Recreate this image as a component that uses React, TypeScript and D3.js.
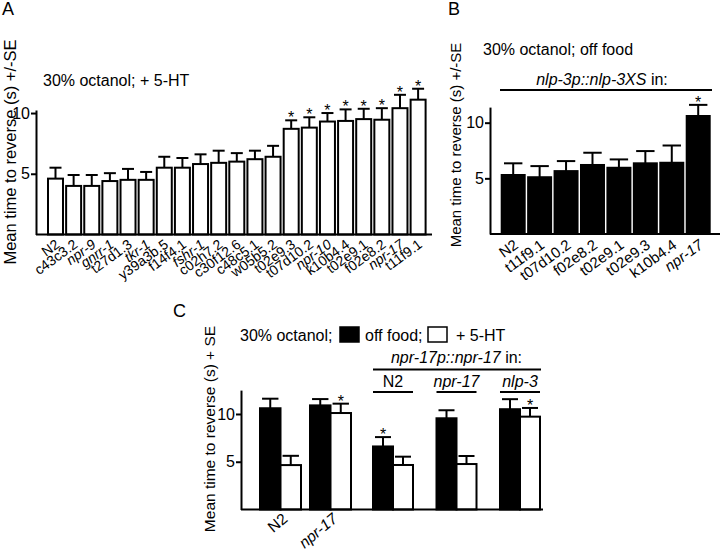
import React, {useRef, useEffect} from 'react';
import {scaleLinear, scaleBand, axisLeft, select} from 'd3';

const fontFamily = '"Liberation Sans", Arial, sans-serif';

// Panel A: 30% octanol; + 5-HT
const strainsA = ['N2','c43c3.2','npr-9','gnrr-1','t27d1.3','tkr-1','y39a3b.5','f14f4.1','fshr-1','c02h7.2','c30f12.6','c48c5.1','w05b5.2','t02e9.3','t07d10.2','npr-10','k10b4.4','t02e9.1','f02e8.2','npr-17','t11f9.1'];
const meanA = [4.6,4.0,4.0,4.4,4.5,4.5,5.5,5.5,5.8,5.9,6.0,6.2,6.4,8.7,8.8,9.3,9.35,9.5,9.45,10.4,11.1];
const seA = [0.9,0.9,0.9,0.65,0.9,0.65,0.9,0.8,0.8,1.0,0.7,0.7,0.9,0.7,0.85,0.7,0.95,0.85,0.95,1.1,0.9];
const sigA = [0,0,0,0,0,0,0,0,0,0,0,0,0,1,1,1,1,1,1,1,1];

// Panel B: 30% octanol; off food, nlp-3 overexpression
const strainsB = ['N2','t11f9.1','t07d10.2','f02e8.2','t02e9.1','t02e9.3','k10b4.4','npr-17'];
const meanB = [5.3,5.1,5.65,6.2,5.95,6.35,6.4,10.6];
const seB = [1.05,1.0,0.9,1.1,0.75,1.1,1.55,1.0];
const sigB = [0,0,0,0,0,0,0,1];

// Panel C: off food vs + 5-HT
const controlsC = ['N2','npr-17'];
const rescuesC = ['N2','npr-17','nlp-3'];
const conditionsC = ['off food','+ 5-HT'];
const offFoodC = [10.6,10.9,6.6,9.55,10.5];
const offFoodSeC = [1.0,0.66,0.98,0.84,1.05];
const htC = [4.65,10.1,4.66,4.76,9.72];
const htSeC = [0.97,0.98,0.87,0.84,0.91];
const sigOffFoodC = [0,0,1,0,0];
const sigHtC = [0,1,0,0,1];

const yTicks = [5,10];

const italic = (s: string) => /^[a-z]+-\d+$/.test(s);

const textStyle = {fontFamily, fill:'#000'};

function YAxis({scale, x}: any){
	const ref = useRef<SVGGElement>(null);
	useEffect(() => {
		const g = select(ref.current);
		g.call(axisLeft(scale).tickValues(yTicks).tickSize(5).tickSizeOuter(0).tickPadding(1) as any);
		g.select('.domain').attr('stroke','#000').attr('stroke-width',2);
		g.selectAll('.tick line').attr('stroke','#000').attr('stroke-width',2);
		g.selectAll('.tick text')
			.style('font-size','16px')
			.style('font-family',fontFamily)
			.attr('fill','#000');
	}, [scale]);
	return <g ref={ref} transform={`translate(${x},0)`} />;
}

function Bar({x, w, y, mean, se, fill, sig}: any){
	const top = y(mean);
	const err = y(mean + se);
	const cx = x + w/2;
	const cap = w*0.8;
	return (
		<g>
			<line x1={cx} x2={cx} y1={top} y2={err} stroke='#000' strokeWidth={2} />
			<line x1={cx - cap/2} x2={cx + cap/2} y1={err} y2={err} stroke='#000' strokeWidth={2} />
			<rect x={x} y={top} width={w} height={y(0) - top} fill={fill} stroke='#000' strokeWidth={2} />
			{sig ? <text x={cx} y={err + 3} textAnchor='middle' style={{...textStyle, fontSize:16}}>*</text> : null}
		</g>
	);
}

function Label({x, y, angle, size, children}: any){
	return (
		<text transform={`translate(${x},${y}) rotate(${angle})`} textAnchor='end'
			style={{...textStyle, fontSize:size, fontStyle: italic(children) ? 'italic' : 'normal'}}>
			{children}
		</text>
	);
}

function PanelA(){
	const y = scaleLinear().domain([0,10.25]).range([234.5,110]);
	const x = scaleBand().domain(strainsA).range([48,425.6]).paddingInner(0.173);
	const w = x.bandwidth();
	return (
		<g>
			<text x={2} y={15} style={{...textStyle, fontSize:18}}>A</text>
			<text transform='translate(16,152) rotate(-90)' textAnchor='middle' style={{...textStyle, fontSize:16.5}}>Mean time to reverse (s) +/-SE</text>
			<text x={43} y={86} style={{...textStyle, fontSize:16}}>30% octanol; + 5-HT</text>
			{strainsA.map((s,i) =>
				<Bar key={s} x={x(s)} w={w} y={y} mean={meanA[i]} se={seA[i]} fill='#fff' sig={sigA[i]} />
			)}
			<line x1={36} x2={432} y1={y(0)} y2={y(0)} stroke='#000' strokeWidth={2} />
			<YAxis scale={y} x={36} />
			{strainsA.map(s =>
				<Label key={s} x={(x(s) as number) + w/2 + 5} y={y(0) + 12} angle={-36} size={14}>{s}</Label>
			)}
		</g>
	);
}

function PanelB(){
	const y = scaleLinear().domain([0,11.4]).range([234,107.1]);
	const x = scaleBand().domain(strainsB).range([501.7,709.7]).paddingInner(0.13);
	const w = x.bandwidth();
	return (
		<g>
			<text x={448} y={15} style={{...textStyle, fontSize:18}}>B</text>
			<text transform='translate(461,145) rotate(-90)' textAnchor='middle' style={{...textStyle, fontSize:15}}>Mean time to reverse (s) +/-SE</text>
			<text x={483} y={55} style={{...textStyle, fontSize:16}}>30% octanol; off food</text>
			<text x={602} y={85} textAnchor='middle' style={{...textStyle, fontSize:16}}>
				<tspan fontStyle='italic'>nlp-3p::nlp-3XS</tspan> in:
			</text>
			<line x1={500} x2={712} y1={90} y2={90} stroke='#000' strokeWidth={2} />
			{strainsB.map((s,i) =>
				<Bar key={s} x={x(s)} w={w} y={y} mean={meanB[i]} se={seB[i]} fill='#000' sig={sigB[i]} />
			)}
			<line x1={490} x2={720} y1={y(0)} y2={y(0)} stroke='#000' strokeWidth={2} />
			<YAxis scale={y} x={490} />
			{strainsB.map(s =>
				<Label key={s} x={(x(s) as number) + w/2 + 6} y={y(0) + 13} angle={-36} size={15}>{s}</Label>
			)}
		</g>
	);
}

function PanelC(){
	const y = scaleLinear().domain([0,12.5]).range([509.5,390.1]);
	const xCtrl = scaleBand().domain(controlsC).range([260,351]).paddingInner(0.18);
	const xRes = scaleBand().domain(rescuesC).range([373,540]).paddingInner(0.37);
	const groups = [
		...controlsC.map(s => ({key:'c'+s, x0: xCtrl(s) as number, bw: xCtrl.bandwidth()})),
		...rescuesC.map(s => ({key:'r'+s, x0: xRes(s) as number, bw: xRes.bandwidth()})),
	];
	return (
		<g>
			<text x={173} y={317} style={{...textStyle, fontSize:18}}>C</text>
			<text transform='translate(215,429) rotate(-90)' textAnchor='middle' style={{...textStyle, fontSize:15.5}}>Mean time to reverse (s) + SE</text>
			<text x={240} y={341} style={{...textStyle, fontSize:16}}>30% octanol;</text>
			<rect x={340} y={327} width={19} height={15} fill='#000' stroke='#000' strokeWidth={1.5} />
			<text x={365} y={341} style={{...textStyle, fontSize:16}}>{conditionsC[0]};</text>
			<rect x={428} y={327} width={19} height={15} fill='#fff' stroke='#000' strokeWidth={1.5} />
			<text x={456} y={341} style={{...textStyle, fontSize:16}}>{conditionsC[1]}</text>
			<text x={(xRes.range()[0] + xRes.range()[1]) / 2} y={363} textAnchor='middle' style={{...textStyle, fontSize:16}}>
				<tspan fontStyle='italic'>npr-17p::npr-17</tspan> in:
			</text>
			<line x1={xRes.range()[0]} x2={xRes.range()[1] + 1} y1={369.5} y2={369.5} stroke='#000' strokeWidth={2} />
			{rescuesC.map(s =>
				<g key={s}>
					<text x={(xRes(s) as number) + xRes.bandwidth()/2} y={387} textAnchor='middle'
						style={{...textStyle, fontSize:16, fontStyle: italic(s) ? 'italic' : 'normal'}}>{s}</text>
					<line x1={xRes(s)} x2={(xRes(s) as number) + xRes.bandwidth()} y1={392} y2={392} stroke='#000' strokeWidth={2} />
				</g>
			)}
			{groups.map((g,i) => {
				const sub = scaleBand().domain(conditionsC).range([g.x0, g.x0 + g.bw]);
				const w = sub.bandwidth();
				return (
					<g key={g.key}>
						<Bar x={sub(conditionsC[0])} w={w} y={y} mean={offFoodC[i]} se={offFoodSeC[i]} fill='#000' sig={sigOffFoodC[i]} />
						<Bar x={sub(conditionsC[1])} w={w} y={y} mean={htC[i]} se={htSeC[i]} fill='#fff' sig={sigHtC[i]} />
					</g>
				);
			})}
			<line x1={241} x2={543} y1={y(0)} y2={y(0)} stroke='#000' strokeWidth={2} />
			<YAxis scale={y} x={241} />
			{controlsC.map(s =>
				<Label key={s} x={(xCtrl(s) as number) + xCtrl.bandwidth()/2 + 8} y={y(0) + 11} angle={-40} size={15.5}>{s}</Label>
			)}
		</g>
	);
}

export default function App(){
	return (
		<svg width={720} height={552} style={{position:'absolute', left:0, top:0, background:'#fff'}}>
			<rect width={720} height={552} fill='#fff' />
			<PanelA />
			<PanelB />
			<PanelC />
		</svg>
	);
}
